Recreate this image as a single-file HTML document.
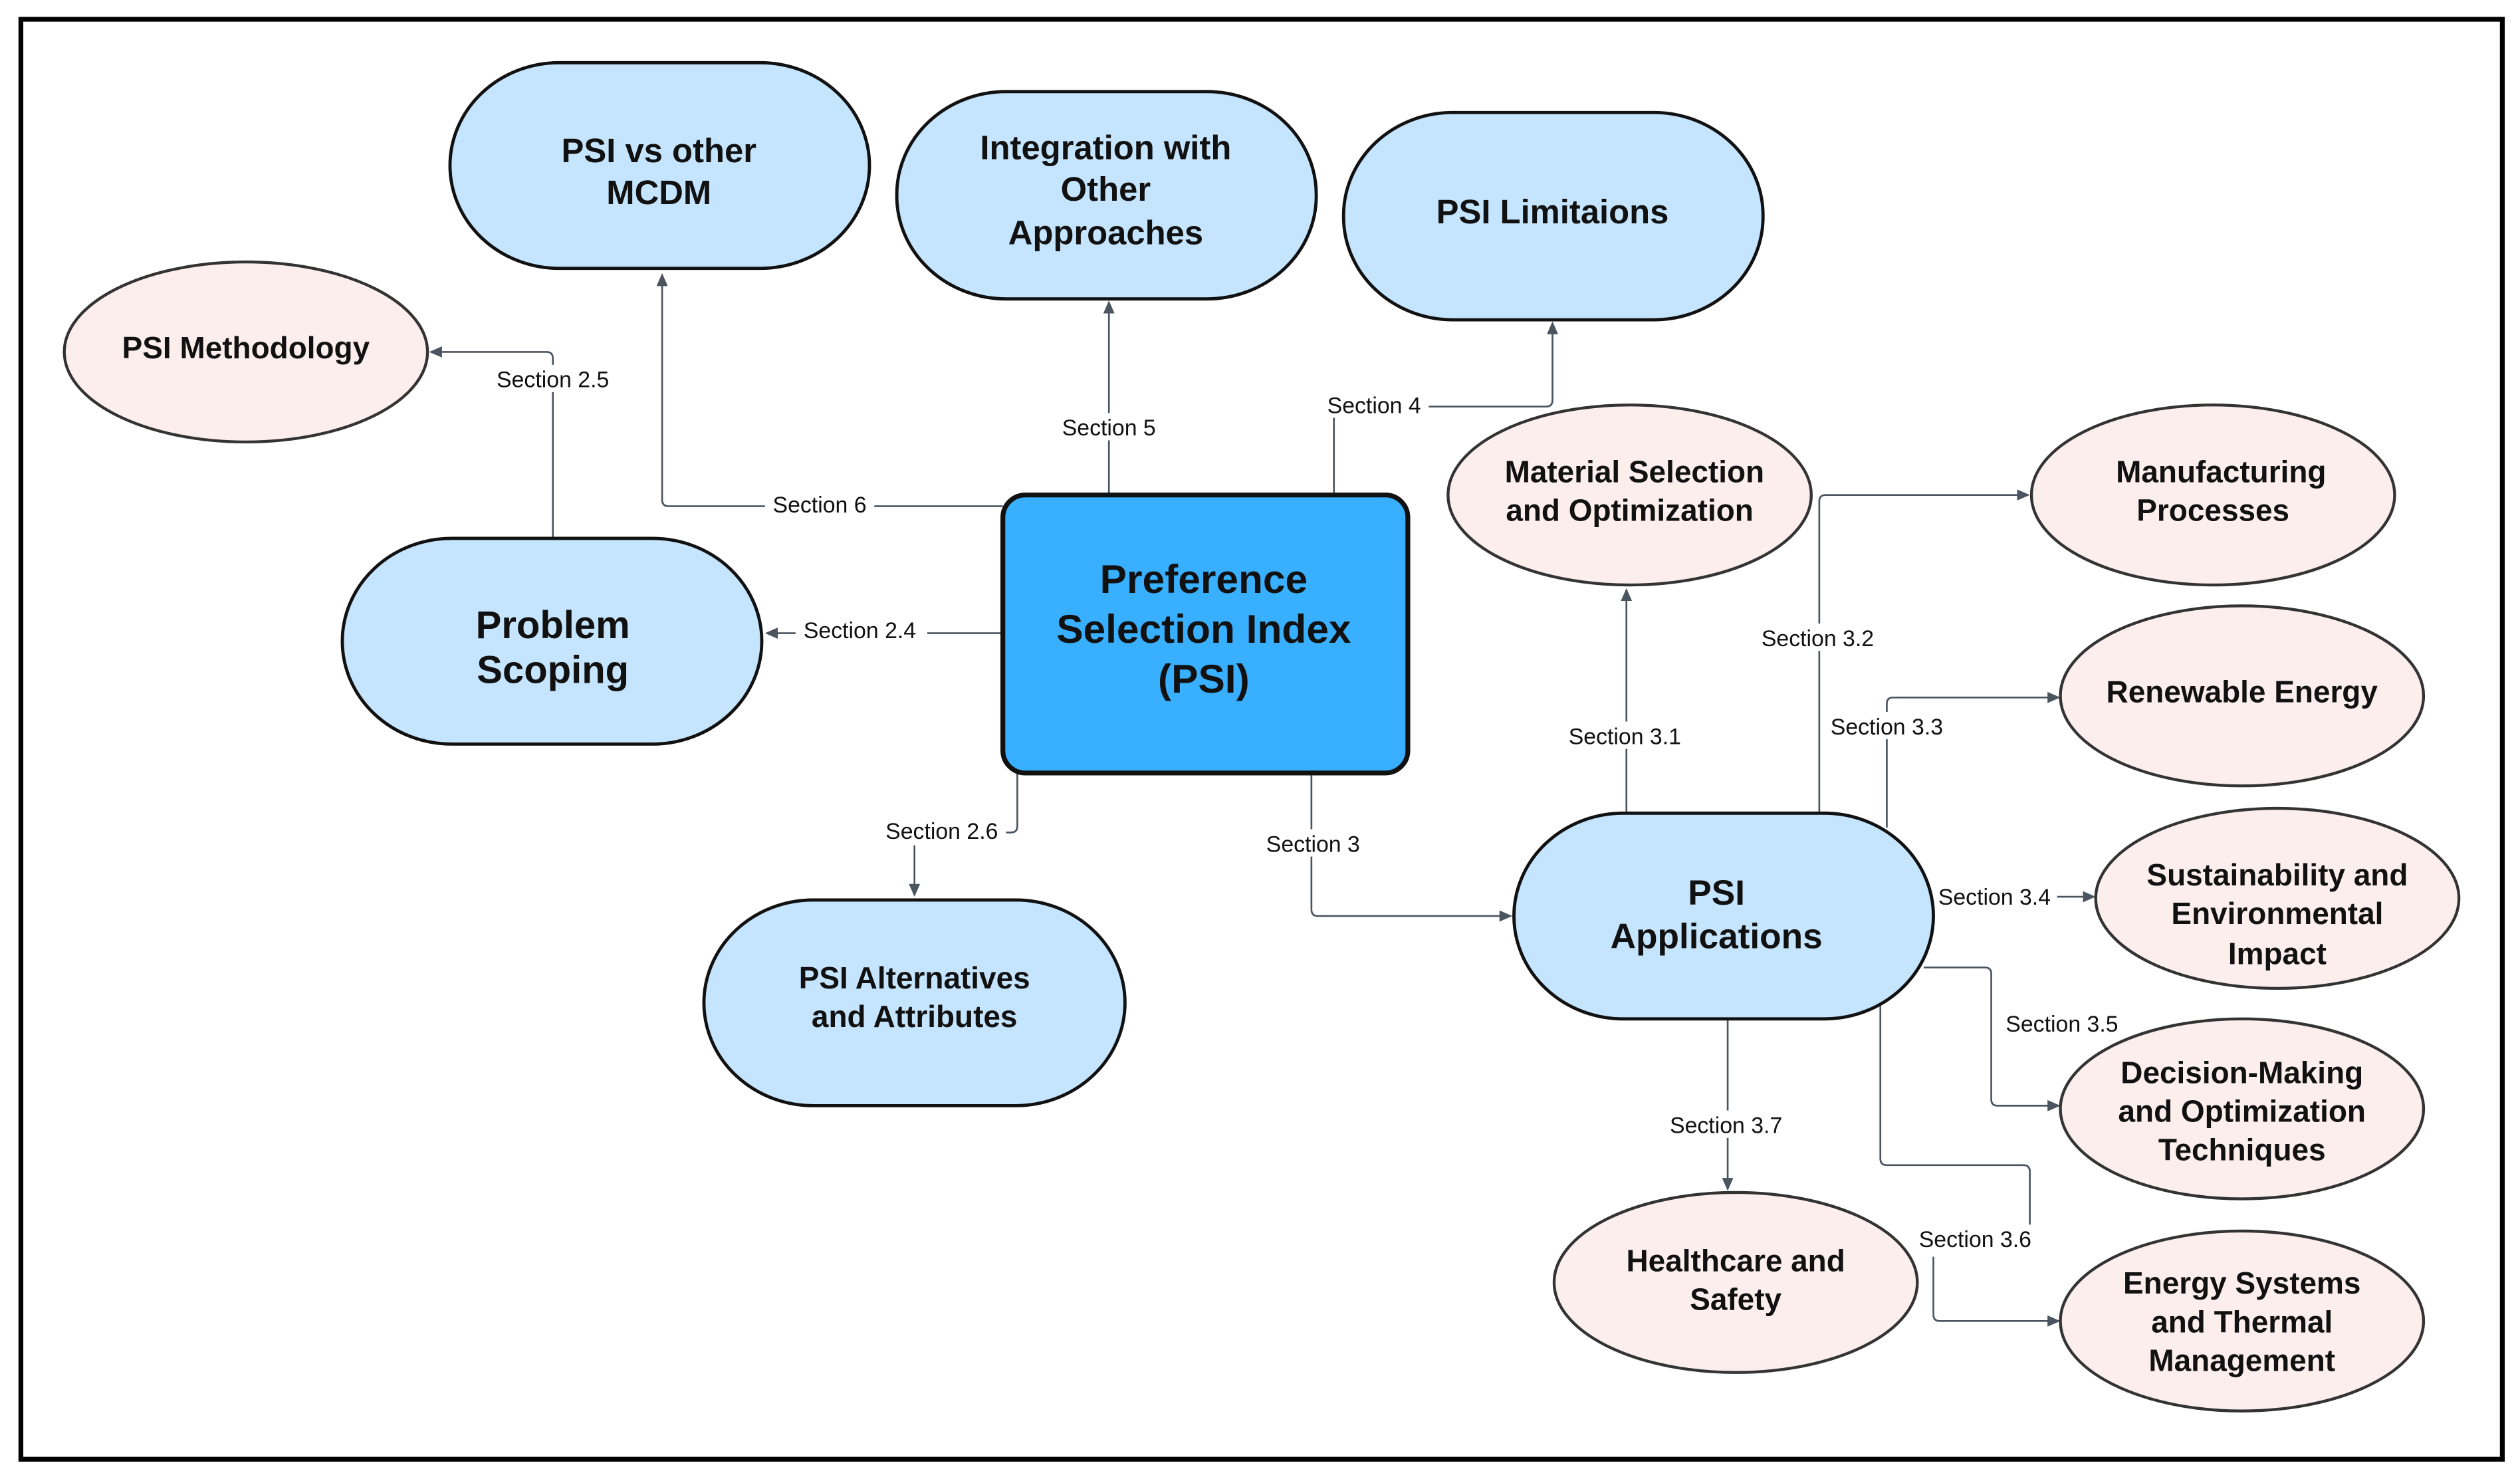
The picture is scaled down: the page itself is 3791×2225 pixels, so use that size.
<!DOCTYPE html>
<html><head><meta charset="utf-8"><style>
html,body{margin:0;padding:0;background:#fff;}
svg{display:block;}
text{font-family:"Liberation Sans",sans-serif;}
.n{font-weight:bold;fill:#111;text-anchor:middle;}
.l{font-size:14px;fill:#111;text-anchor:middle;}
.c{fill:none;stroke:#4a5560;stroke-width:1.1;}
.lb{fill:#fff;}
.b{fill:#c5e4fd;stroke:#111;stroke-width:2;}
.p{fill:#fdeeee;stroke:#333;stroke-width:1.8;}
</style></head><body>
<svg width="3791" height="2225" viewBox="0 0 1568 920.3" preserveAspectRatio="none">
<defs><marker id="a" markerWidth="8" markerHeight="8" refX="7" refY="4" orient="auto" markerUnits="userSpaceOnUse"><path d="M0,0.5 L8,4 L0,7.5z" fill="#4a5560"/></marker></defs>
<rect x="13" y="12" width="1544" height="896" fill="#fff" stroke="#000" stroke-width="3"/>

<!-- connectors -->
<path class="c" d="M624,315 H416 Q412,315 412,311 V171" marker-end="url(#a)"/>
<path class="c" d="M690,308 V188" marker-end="url(#a)"/>
<path class="c" d="M830,308 V253 H962 Q966,253 966,249 V201" marker-end="url(#a)"/>
<path class="c" d="M624,394 H477" marker-end="url(#a)"/>
<path class="c" d="M344,335 V223 Q344,219 340,219 H268" marker-end="url(#a)"/>
<path class="c" d="M633,481 V514 Q633,518 629,518 H573 Q569,518 569,522 V557" marker-end="url(#a)"/>
<path class="c" d="M816,481 V566 Q816,570 820,570 H940" marker-end="url(#a)"/>
<path class="c" d="M1012,506 V367" marker-end="url(#a)"/>
<path class="c" d="M1132,506 V312 Q1132,308 1136,308 H1262" marker-end="url(#a)"/>
<path class="c" d="M1174,515 V438 Q1174,434 1178,434 H1281" marker-end="url(#a)"/>
<path class="c" d="M1203,558 H1303" marker-end="url(#a)"/>
<path class="c" d="M1197,602 H1235 Q1239,602 1239,606 V684 Q1239,688 1243,688 H1281" marker-end="url(#a)"/>
<path class="c" d="M1170,626 V721 Q1170,725 1174,725 H1259 Q1263,725 1263,729 V765"/>
<path class="c" d="M1203,782 V818 Q1203,822 1207,822 H1281" marker-end="url(#a)"/>
<path class="c" d="M1075,634 V740" marker-end="url(#a)"/>

<!-- labels -->
<g>
<rect class="lb" x="476" y="305" width="68" height="17"/><text class="l" x="510" y="319">Section  6</text>
<rect class="lb" x="656" y="257" width="68" height="17"/><text class="l" x="690" y="271">Section  5</text>
<rect class="lb" x="821" y="243" width="68" height="17"/><text class="l" x="855" y="257">Section  4</text>
<rect class="lb" x="495" y="384" width="82" height="17"/><text class="l" x="535" y="397">Section  2.4</text>
<rect class="lb" x="303" y="227" width="82" height="17"/><text class="l" x="344" y="241">Section  2.5</text>
<rect class="lb" x="546" y="509" width="80" height="17"/><text class="l" x="586" y="522">Section 2.6</text>
<rect class="lb" x="783" y="516" width="68" height="17"/><text class="l" x="817" y="530">Section  3</text>
<rect class="lb" x="970" y="449" width="82" height="17"/><text class="l" x="1011" y="463">Section  3.1</text>
<rect class="lb" x="1090" y="388" width="82" height="17"/><text class="l" x="1131" y="402">Section  3.2</text>
<rect class="lb" x="1133" y="443" width="82" height="17"/><text class="l" x="1174" y="457">Section  3.3</text>
<rect class="lb" x="1202" y="549" width="78" height="17"/><text class="l" x="1241" y="563">Section  3.4</text>
<rect class="lb" x="1242" y="628" width="82" height="17"/><text class="l" x="1283" y="642">Section  3.5</text>
<rect class="lb" x="1188" y="762" width="82" height="17"/><text class="l" x="1229" y="776">Section  3.6</text>
<rect class="lb" x="1033" y="691" width="82" height="17"/><text class="l" x="1074" y="705">Section  3.7</text>
</g>

<!-- blue nodes -->
<rect class="b" x="280" y="39" width="261" height="128" rx="68" ry="64"/>
<text class="n" font-size="21" x="410" y="101">PSI vs other</text><text class="n" font-size="21" x="410" y="127">MCDM</text>
<rect class="b" x="558" y="57" width="261" height="129" rx="68" ry="64"/>
<text class="n" font-size="21" x="688" y="99">Integration with</text><text class="n" font-size="21" x="688" y="125">Other</text><text class="n" font-size="21" x="688" y="152">Approaches</text>
<rect class="b" x="836" y="70" width="261" height="129" rx="68" ry="64"/>
<text class="n" font-size="21" x="966" y="139">PSI Limitaions</text>
<rect class="b" x="213" y="335" width="261" height="128" rx="68" ry="64"/>
<text class="n" font-size="24" x="344" y="397">Problem</text><text class="n" font-size="24" x="344" y="425">Scoping</text>
<rect class="b" x="438" y="560" width="262" height="128" rx="68" ry="64"/>
<text class="n" font-size="19" x="569" y="615">PSI Alternatives</text><text class="n" font-size="19" x="569" y="639">and Attributes</text>
<rect class="b" x="942" y="506" width="261" height="128" rx="68" ry="64"/>
<text class="n" font-size="22" x="1068" y="563">PSI</text><text class="n" font-size="22" x="1068" y="590">Applications</text>

<rect x="624" y="308" width="252" height="173" rx="14" fill="#38b0ff" stroke="#111" stroke-width="3"/>
<text class="n" font-size="25" x="749" y="369">Preference</text><text class="n" font-size="25" x="749" y="400">Selection Index</text><text class="n" font-size="25" x="749" y="431">(PSI)</text>

<!-- pink nodes -->
<ellipse class="p" cx="153" cy="219" rx="113" ry="56"/>
<text class="n" font-size="19" x="153" y="223">PSI Methodology</text>
<ellipse class="p" cx="1014" cy="308" rx="113" ry="56"/>
<text class="n" font-size="19" x="1017" y="300">Material Selection</text><text class="n" font-size="19" x="1014" y="324">and Optimization</text>
<ellipse class="p" cx="1377" cy="308" rx="113" ry="56"/>
<text class="n" font-size="19" x="1382" y="300">Manufacturing</text><text class="n" font-size="19" x="1377" y="324">Processes</text>
<ellipse class="p" cx="1395" cy="433" rx="113" ry="56"/>
<text class="n" font-size="19" x="1395" y="437">Renewable Energy</text>
<ellipse class="p" cx="1417" cy="559" rx="113" ry="56"/>
<text class="n" font-size="19" x="1417" y="551">Sustainability and</text><text class="n" font-size="19" x="1417" y="575">Environmental</text><text class="n" font-size="19" x="1417" y="600">Impact</text>
<ellipse class="p" cx="1395" cy="690" rx="113" ry="56"/>
<text class="n" font-size="19" x="1395" y="674">Decision-Making</text><text class="n" font-size="19" x="1395" y="698">and Optimization</text><text class="n" font-size="19" x="1395" y="722">Techniques</text>
<ellipse class="p" cx="1080" cy="798" rx="113" ry="56"/>
<text class="n" font-size="19" x="1080" y="791">Healthcare and</text><text class="n" font-size="19" x="1080" y="815">Safety</text>
<ellipse class="p" cx="1395" cy="822" rx="113" ry="56"/>
<text class="n" font-size="19" x="1395" y="805">Energy Systems</text><text class="n" font-size="19" x="1395" y="829">and Thermal</text><text class="n" font-size="19" x="1395" y="853">Management</text>
</svg>
</body></html>
